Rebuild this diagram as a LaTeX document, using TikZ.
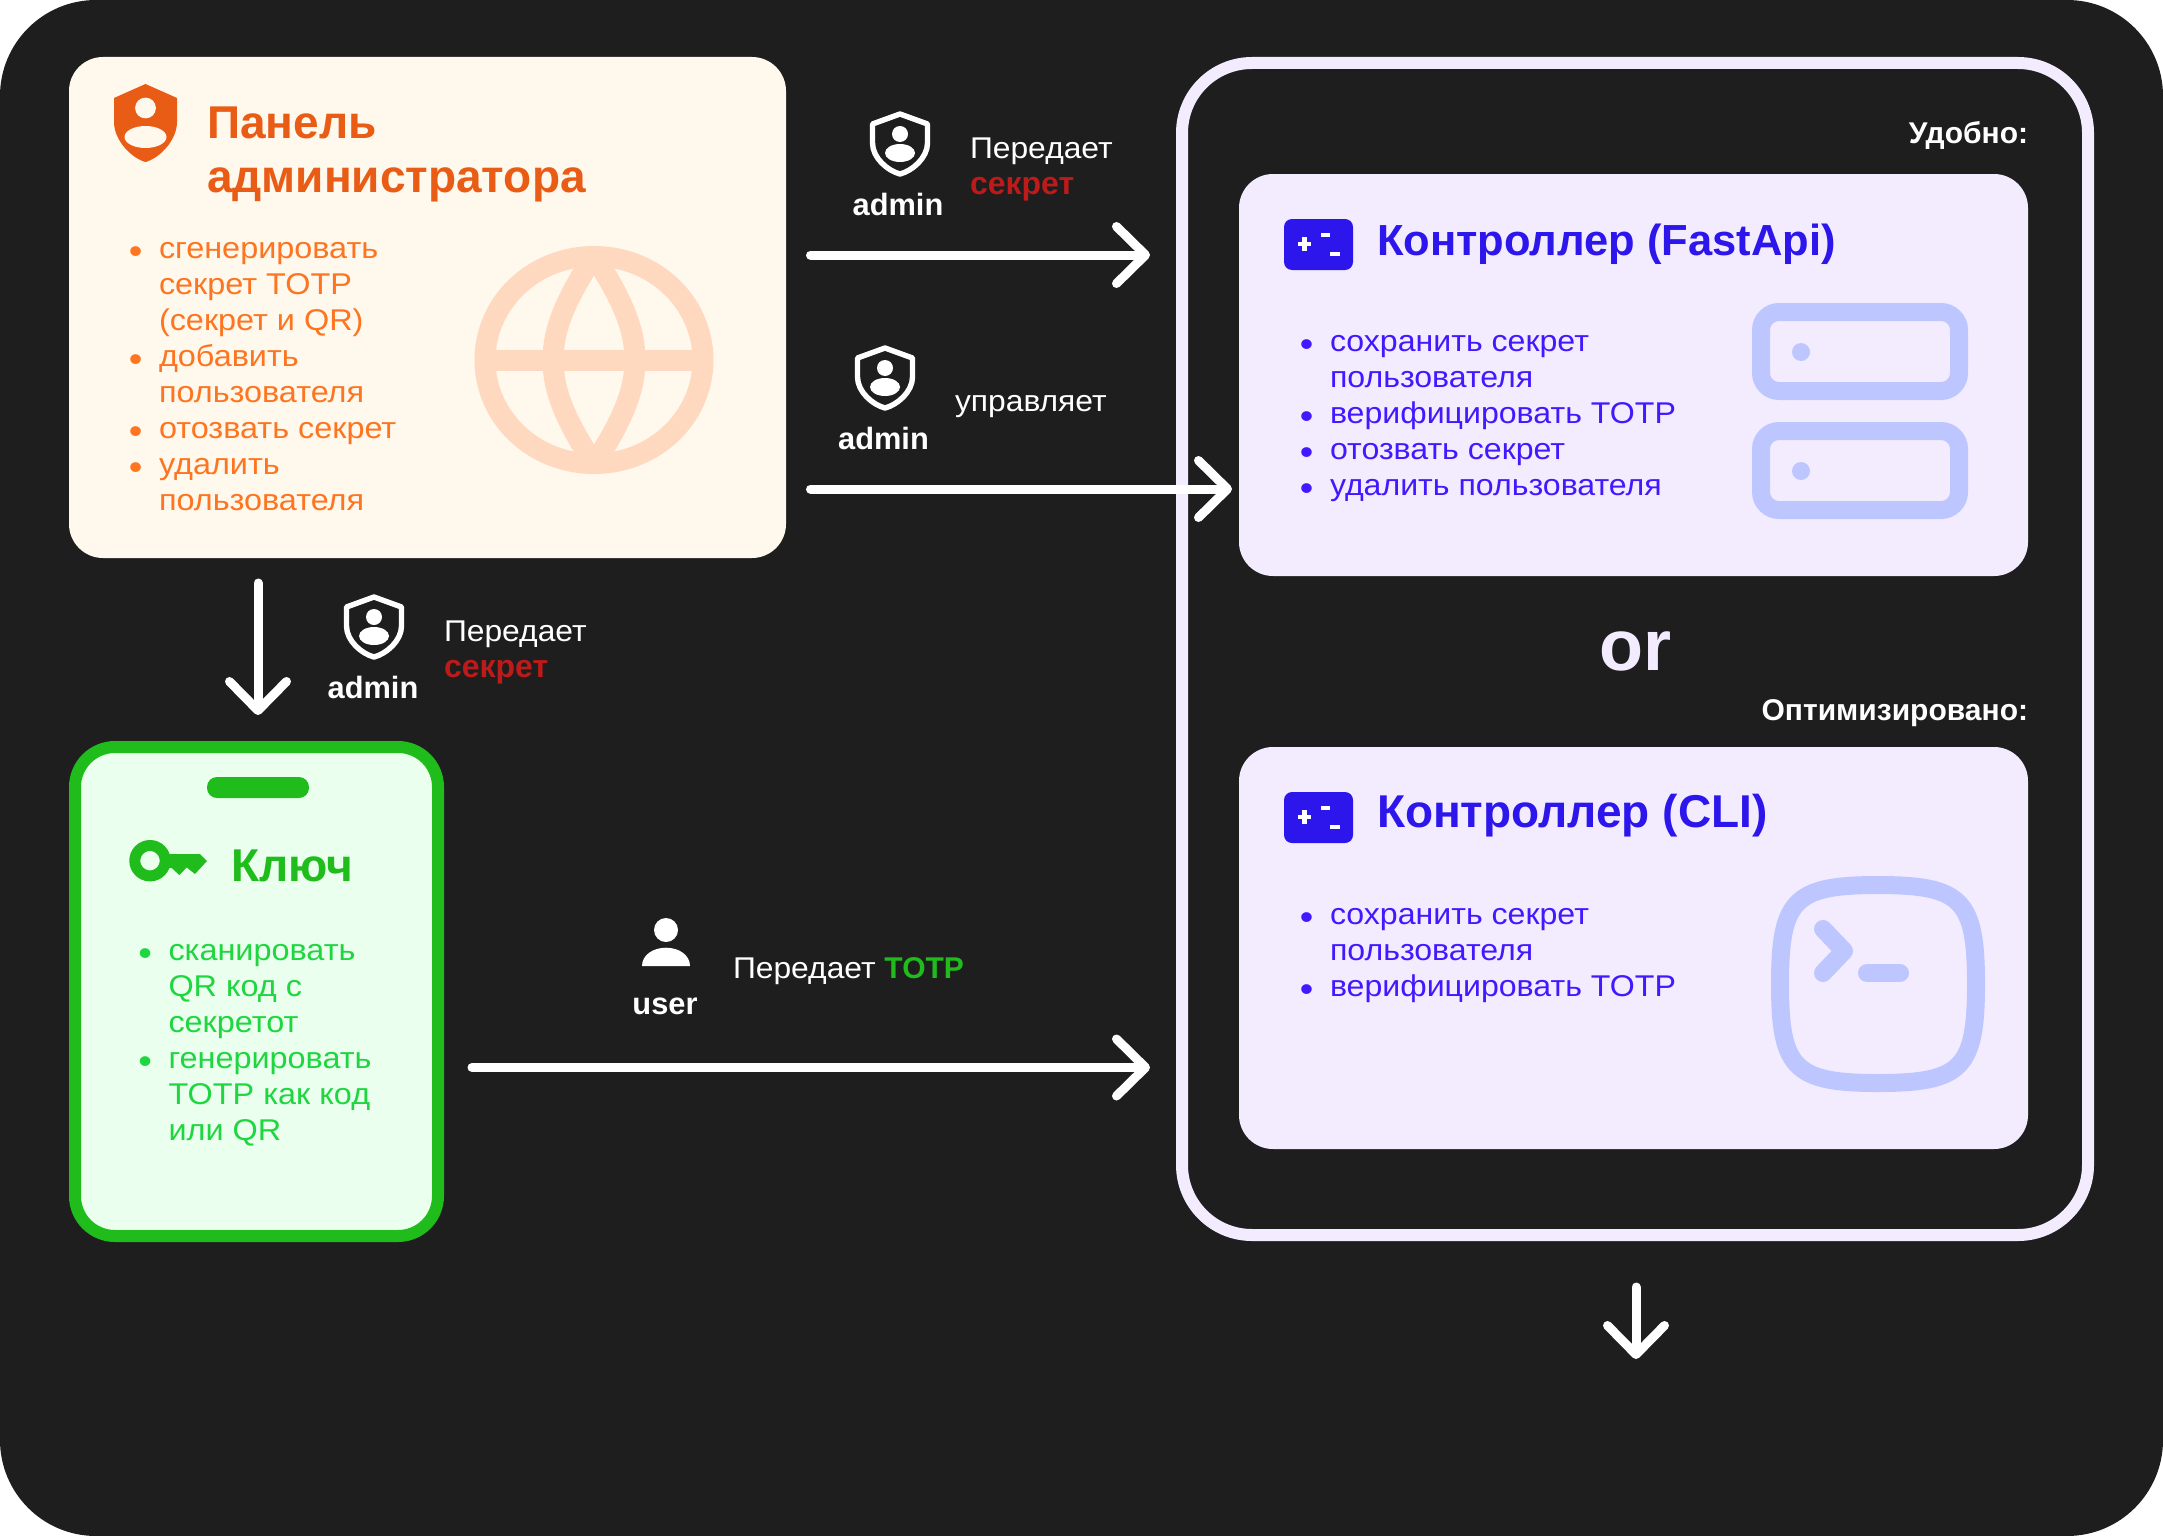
\documentclass[tikz,border=0pt]{standalone}
\usepackage{fontspec}
\setmainfont[FakeStretch=1.06,BoldFeatures={FakeStretch=1.0}]{Liberation Sans}
\usetikzlibrary{arrows.meta,calc}
\definecolor{bgdark}{HTML}{1E1E1E}
\definecolor{panelfill}{HTML}{FFF8EC}
\definecolor{paneltitle}{HTML}{E95C16}
\definecolor{paneltext}{HTML}{FD7520}
\definecolor{globecol}{HTML}{FFD9BF}
\definecolor{ctrlfill}{HTML}{F3ECFF}
\definecolor{ctrltitle}{HTML}{2C16EB}
\definecolor{ctrltext}{HTML}{4318FF}
\definecolor{ctrlicon}{HTML}{BDC6FF}
\definecolor{keystroke}{HTML}{1FBC1C}
\definecolor{keyfill}{HTML}{EAFFEE}
\definecolor{keytext}{HTML}{20D640}
\definecolor{secretred}{HTML}{BD1A1A}
\newcommand{\libul}{\leavevmode\llap{\smash{\raisebox{-2.7pt}{\fontsize{18pt}{18pt}\selectfont •}}\hspace{8.3pt}}}
\newcommand{\pxfont}[2]{\fontsize{#1}{#2}\selectfont}
\newcommand{\boldsecret}[1]{{\bfseries\fontsize{16pt}{18pt}\selectfont #1}}
\tikzset{
  txt/.style={anchor=base west,inner sep=0pt,outer sep=0pt,align=left},
  titletxt/.style={txt,font=\bfseries\pxfont{23pt}{27pt}},
  fasttitletxt/.style={txt,font=\bfseries\pxfont{21.75pt}{27pt}},
  listtxt/.style={txt,font=\pxfont{15pt}{18pt}\addfontfeature{FakeStretch=1.08}},
  ctrllisttxt/.style={txt,font=\pxfont{15pt}{18pt}\addfontfeature{FakeStretch=1.07}},
  lbl/.style={txt,text=white,font=\pxfont{15pt}{18pt}},
  who/.style={anchor=base,inner sep=0pt,outer sep=0pt,text=white,font=\bfseries\pxfont{15.4pt}{18pt}},
  hint/.style={anchor=base east,inner sep=0pt,outer sep=0pt,text=white,font=\bfseries\pxfont{15pt}{18pt}},
  cardbox/.style={rectangle,inner sep=0pt,outer sep=0pt,rounded corners=17pt},
  flow/.style={draw=white,line width=4.5pt,line cap=round,-{Straight Barb[length=14.5pt,width=28.5pt,line width=4.5pt,round]}},
  pics/adminshield/.style={code={
    \draw[white,line width=2.7pt,line join=round]
      (0,3) -- (27.5,13) -- (27.5,32) .. controls (27.5,47) and (12,60) .. (0,63)
      .. controls (-12,60) and (-27.5,47) .. (-27.5,32) -- (-27.5,13) -- cycle;
    \fill[white] (0,23) circle (4pt);
    \fill[white] (0,42) ellipse (7.5pt and 4.5pt);
  }},
  pics/ctrlbadge/.style={code={
    \fill[ctrltitle,rounded corners=4pt] (0,0) rectangle (69,51);
    \fill[white] (13.7,22.7) rectangle (27,27.3);
    \fill[white] (18,18.3) rectangle (22.6,31.7);
    \fill[white] (36.6,13.7) rectangle (46,17.7);
    \fill[white] (46,32.7) rectangle (55.5,37);
  }},
  pics/serverslot/.style={code={
    \draw[ctrlicon,line width=9pt,rounded corners=9pt] (0,0) rectangle (198,79);
    \fill[ctrlicon] (40,40) circle (4.5pt);
  }}
}
\begin{document}
\begin{tikzpicture}[x=0.5pt,y=-0.5pt]
\useasboundingbox (0,0) rectangle (2163,1536);
\fill[bgdark,rounded corners=48pt] (0,0) rectangle (2163,1536);

% ---------- boxes
\node[cardbox,fill=panelfill,minimum width=358.5pt,minimum height=250.5pt] (panel) at (427.5,307.5) {};
\node[rectangle,inner sep=0pt,outer sep=0pt,draw=ctrlfill,line width=6pt,rounded corners=35pt,minimum width=453pt,minimum height=586pt] (frame) at (1635,649) {};
\node[cardbox,fill=ctrlfill,minimum width=394.5pt,minimum height=201pt] (fast) at (1633.5,375) {};
\node[cardbox,fill=ctrlfill,minimum width=394.5pt,minimum height=201pt] (cli) at (1633.5,948) {};
\node[rectangle,inner sep=0pt,outer sep=0pt,draw=keystroke,fill=keyfill,line width=6pt,rounded corners=20pt,minimum width=181.5pt,minimum height=244.5pt] (phone) at (256.5,991.5) {};
\node[rectangle,inner sep=0pt,outer sep=0pt,fill=keystroke,rounded corners=5pt,minimum width=51pt,minimum height=10.5pt] (notch) at (258,787.5) {};

% ---------- admin panel
\fill[paneltitle] (145.5,84) -- (177,98) -- (177,122) .. controls (177,140) and (160,158) .. (145.5,162)
  .. controls (131,158) and (114,140) .. (114,122) -- (114,98) -- cycle;
\fill[panelfill] (145.5,108) circle (5.2pt);
\fill[panelfill] (145.5,137) ellipse (10.5pt and 5.5pt);
\node[titletxt,text=paneltitle] (paneltitletext) at (207,192) {Панель\\администратора};
\node[listtxt,text=paneltext] (panellist) at (159,510) {\libul сгенерировать\\секрет TOTP\\(секрет и QR)\\\libul добавить\\пользователя\\\libul отозвать секрет\\\libul удалить\\пользователя};
\begin{scope}
\clip (594,360) ellipse (60pt and 57pt);
\draw[globecol,line width=10.5pt] (594,360) ellipse (54.5pt and 52pt);
\draw[globecol,line width=10.5pt] (485,360) -- (703,360);
\draw[globecol,line width=10.5pt] (594,256) .. controls (565,300) and (553,330) .. (553,360) .. controls (553,390) and (565,420) .. (594,464)
  .. controls (623,420) and (635,390) .. (635,360) .. controls (635,330) and (623,300) .. (594,256) -- cycle;
\end{scope}

% ---------- controller FastApi
\pic at (1284,219) {ctrlbadge};
\node[fasttitletxt,text=ctrltitle] (fasttitle) at (1377,255) {Контроллер (FastApi)};
\node[ctrllisttxt,text=ctrltext] (fastlist) at (1330,495.5) {\libul сохранить секрет\\пользователя\\\libul верифицировать TOTP\\\libul отозвать секрет\\\libul удалить пользователя};
\pic at (1761,312) {serverslot};
\pic at (1761,431) {serverslot};

% ---------- controller CLI
\pic at (1284,792) {ctrlbadge};
\node[titletxt,text=ctrltitle] (clititle) at (1377,827) {Контроллер (CLI)};
\node[ctrllisttxt,text=ctrltext] (clilist) at (1330,996) {\libul сохранить секрет\\пользователя\\\libul верифицировать TOTP};
\draw[ctrlicon,line width=9pt] (1780,984) .. controls (1780,900) and (1794,885) .. (1878,885)
  .. controls (1962,885) and (1976,900) .. (1976,984)
  .. controls (1976,1068) and (1962,1083) .. (1878,1083)
  .. controls (1794,1083) and (1780,1068) .. (1780,984) -- cycle;
\draw[ctrlicon,line width=9pt,line cap=round,line join=round] (1823,929) -- (1844,951) -- (1823,973);
\draw[ctrlicon,line width=9pt,line cap=round] (1867,973) -- (1900,973);

% ---------- key
\draw[keystroke,line width=5.5pt] (150,860.7) circle (7.6pt);
\fill[keystroke] (165,854) -- (200,854) -- (207,861) -- (195,874) -- (186.7,867.5) -- (179.3,875) -- (171.7,868) -- (165,868) -- cycle;
\node[titletxt,text=keystroke] (keytitle) at (231.5,881.5) {Ключ};
\node[listtxt,text=keytext] (keylist) at (168.5,1140) {\libul сканировать\\QR код с\\секретот\\\libul генерировать\\TOTP как код\\или QR};

% ---------- right side captions
\node[hint] (hintfast) at (2028,143) {Удобно:};
\node[hint] (hintcli) at (2028,720) {Оптимизировано:};
\node[anchor=base,inner sep=0pt,text=ctrlfill,font=\bfseries\pxfont{36pt}{40pt}] (ortext) at (1635,670) {or};

% ---------- actor labels
\pic at (900,111) {adminshield};
\node[who] (admina) at (898,215) {admin};
\node[lbl] (passa) at (970,194.5) {Передает\\\textcolor{secretred}{\boldsecret{секрет}}};
\pic at (885,345) {adminshield};
\node[who] (adminb) at (883.5,449) {admin};
\node[lbl] (manage) at (955,411) {управляет};
\pic at (374,594) {adminshield};
\node[who] (adminc) at (373,698) {admin};
\node[lbl] (passc) at (444,677.5) {Передает\\\textcolor{secretred}{\boldsecret{секрет}}};
\fill[white] (666,930) circle (6pt);
\fill[white] (642,966) .. controls (642,955) and (653,947.7) .. (666,947.7) .. controls (679,947.7) and (690,955) .. (690,966) -- cycle;
\node[who] (userl) at (665,1014) {user};
\node[lbl] (passu) at (733,978) {Передает \textcolor{keystroke}{\bfseries TOTP}};

% ---------- connectors
\coordinate (aone) at (1150,255);
\coordinate (atwo) at (1232,489);
\coordinate (athree) at (1150,1067.5);
\coordinate (adown) at (258,715);
\coordinate (aout) at (1636,1359);
\draw[flow,shorten <=12.25pt] (panel.east |- aone) -- (aone);
\draw[flow,shorten <=12.25pt] (panel.east |- atwo) -- (atwo);
\draw[flow,shorten <=17pt] (phone.east |- athree) -- (athree);
\draw[flow,shorten <=12.5pt] (panel.south -| adown) -- (adown);
\draw[flow,shorten <=26pt] (frame.south -| aout) -- (aout);
\end{tikzpicture}
\end{document}
